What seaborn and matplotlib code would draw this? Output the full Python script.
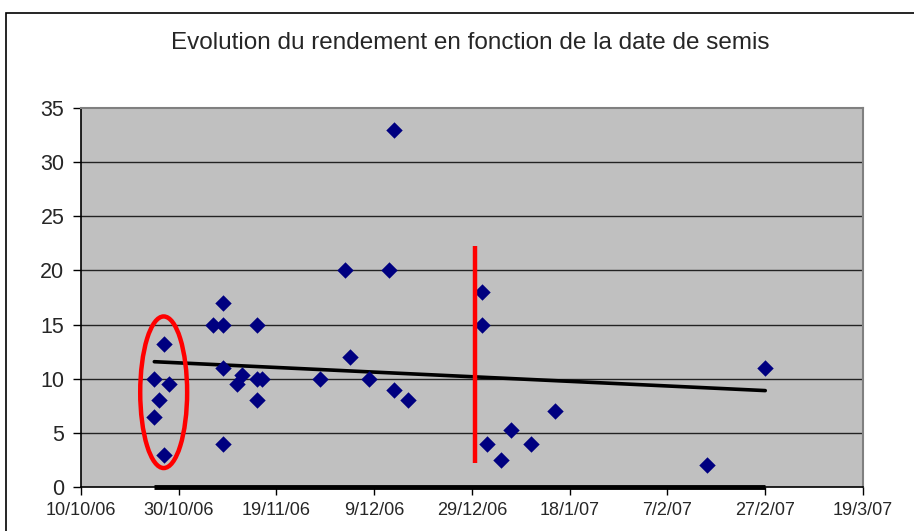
import numpy as np
import pandas as pd
import matplotlib
matplotlib.use("Agg")
import matplotlib.pyplot as plt
import matplotlib.dates as mdates
from matplotlib.patches import Ellipse, Rectangle
from matplotlib.ticker import FuncFormatter, FixedLocator
import seaborn as sns

# ---- data ----
sowing_dates = [
    "2006-10-25", "2006-10-27", "2006-10-28", "2006-10-26", "2006-10-25", "2006-10-27",
    "2006-11-06", "2006-11-08", "2006-11-08", "2006-11-08", "2006-11-08",
    "2006-11-11", "2006-11-12", "2006-11-15", "2006-11-15", "2006-11-16", "2006-11-15",
    "2006-11-28", "2006-12-03", "2006-12-04", "2006-12-08", "2006-12-13", "2006-12-12",
    "2006-12-13", "2006-12-16", "2006-12-31", "2006-12-31", "2007-01-01", "2007-01-04",
    "2007-01-06", "2007-01-10", "2007-01-15", "2007-02-15", "2007-02-27",
]
yields = [
    10, 13.2, 9.5, 8, 6.5, 3,
    15, 15, 17, 11, 4,
    9.5, 10.3, 15, 10, 10, 8,
    10, 20, 12, 10, 33, 20,
    9, 8, 18, 15, 4, 2.5,
    5.3, 4, 7, 2, 11,
]
x_tick_dates = ["2006-10-10", "2006-10-30", "2006-11-19", "2006-12-09", "2006-12-29",
                "2007-01-18", "2007-02-07", "2007-02-27", "2007-03-19"]
y_ticks = [0, 5, 10, 15, 20, 25, 30, 35]
title = "Evolution du rendement en fonction de la date de semis"
red_line_date = "2006-12-29 14:00"
red_line_range = [2.2, 22.3]
ellipse_center = ("2006-10-26 22:00", 8.75)
ellipse_size = (9.6, 14.0)  # days, yield units

df = pd.DataFrame({"date": pd.to_datetime(sowing_dates), "rendement": yields})
df["x"] = mdates.date2num(df["date"])
xt = mdates.date2num(pd.to_datetime(x_tick_dates))

sns.set_style("white")
plt.rcParams["font.family"] = ["Liberation Sans", "DejaVu Sans"]

fig = plt.figure(figsize=(9.14, 5.31), dpi=100)
ax = fig.add_axes([81 / 914, 1 - 487 / 531, (863 - 81) / 914, (487 - 108) / 531])
ax.set_facecolor("#C0C0C0")

# outer chart frame
fig.add_artist(Rectangle((6 / 914, -0.05), 1.2, 1 - 13 / 531 + 0.05, transform=fig.transFigure,
                         fill=False, edgecolor="black", linewidth=1.2))

ax.set_xlim(xt[0], xt[-1])
ax.set_ylim(0, 35)

for yv in y_ticks[1:-1]:
    ax.axhline(yv, color="#222222", linewidth=1.0, zorder=1)

# trend line (linear regression)
sns.regplot(data=df, x="x", y="rendement", scatter=False, ci=None, truncate=True,
            line_kws={"color": "black", "linewidth": 2.6, "zorder": 3}, ax=ax)

# baseline thick segment along the x-axis
ax.plot([df["x"].min(), df["x"].max()], [0, 0], color="black", linewidth=3.5,
        solid_capstyle="butt", clip_on=False, zorder=5)

sns.scatterplot(data=df, x="x", y="rendement", marker="D", s=70, color="#000080",
                linewidth=0, ax=ax, zorder=4)

# red vertical line
rx = mdates.date2num(pd.Timestamp(red_line_date))
ax.plot([rx, rx], red_line_range, color="#FF0000", linewidth=3.2, solid_capstyle="butt", zorder=6)

# red ellipse
ex = mdates.date2num(pd.Timestamp(ellipse_center[0]))
ax.add_patch(Ellipse((ex, ellipse_center[1]), ellipse_size[0], ellipse_size[1],
                     fill=False, edgecolor="#FF0000", linewidth=3.2, zorder=6))

ax.xaxis.set_major_locator(FixedLocator(xt))
ax.xaxis.set_major_formatter(FuncFormatter(
    lambda v, p: (lambda d: f"{d.day}/{d.month}/{d:%y}")(mdates.num2date(v))))
ax.set_yticks(y_ticks)
ax.tick_params(axis="both", direction="out", length=6, width=1, color="black", bottom=True, left=True)
ax.tick_params(axis="y", labelsize=15.5, pad=6)
ax.tick_params(axis="x", labelsize=13, pad=5)
ax.set_xlabel("")
ax.set_ylabel("")

for s in ["left", "bottom"]:
    ax.spines[s].set_color("black")
    ax.spines[s].set_linewidth(1.2)
for s in ["top", "right"]:
    ax.spines[s].set_color("#808080")
    ax.spines[s].set_linewidth(1.5)

fig.text(470 / 914, 1 - 43 / 531, title, ha="center", va="center", fontsize=17.5)

fig.savefig("out.png", dpi=100)
